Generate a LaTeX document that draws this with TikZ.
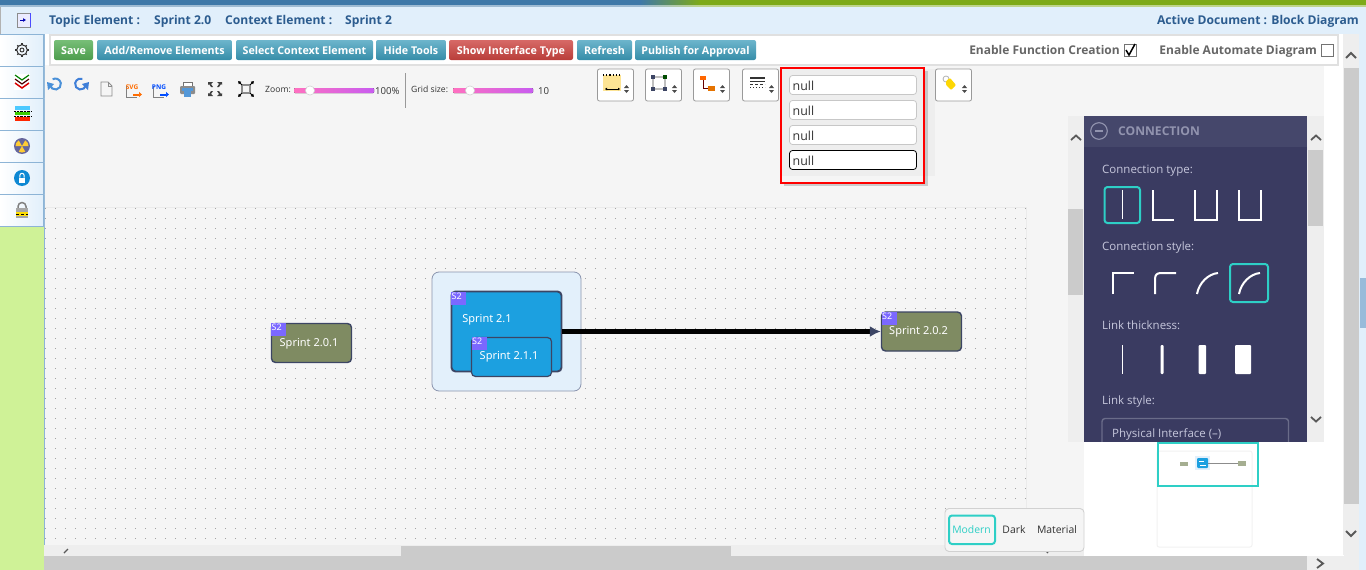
\documentclass[tikz,border=0pt]{standalone}
\usepackage{fontspec}
\setmainfont{Open Sans}
\newfontfamily\labelfont{Noto Sans}
\usetikzlibrary{arrows.meta}
\definecolor{hdr}{HTML}{E1EFFB}
\definecolor{hdrtxt}{HTML}{2C5C8F}
\definecolor{side}{HTML}{CFF297}
\definecolor{sideln}{HTML}{8DB4D6}
\definecolor{canvas}{HTML}{F5F5F5}
\definecolor{track}{HTML}{EEEEEE}
\definecolor{thumb}{HTML}{CBCBCB}
\definecolor{panel}{HTML}{3A3B61}
\definecolor{panelhd}{HTML}{45476B}
\definecolor{paneltx}{HTML}{C6C7DC}
\definecolor{teal}{HTML}{2ECFC6}
\definecolor{olive}{HTML}{7F8B62}
\definecolor{nodeblue}{HTML}{1CA0E0}
\definecolor{nodeln}{HTML}{3C4564}
\definecolor{tagc}{HTML}{7B68FF}
\definecolor{contfill}{HTML}{E3F0FB}
\definecolor{contln}{HTML}{8A94AE}
\definecolor{btnblue}{HTML}{3C9DBB}
\definecolor{btnred}{HTML}{CD4440}
\definecolor{btngreen}{HTML}{55AE55}
\definecolor{boxgray}{HTML}{9A9A9A}
\definecolor{undoc}{HTML}{4A90D8}
\definecolor{redoc}{HTML}{3F7FD8}
\tikzset{
  x=1pt,y=-1pt,
  btn/.style={rounded corners=2pt,inner sep=0pt,minimum height=20pt,text=white,text height=9pt,text depth=1pt,font=\bfseries\fontsize{10.7}{12}\selectfont,anchor=center},
  bluebtn/.style={btn,top color=btnblue!75!white,bottom color=btnblue!90!black},
  redbtn/.style={btn,top color=btnred!80!white,bottom color=btnred!90!black},
  greenbtn/.style={btn,top color=btngreen!80!white,bottom color=btngreen!90!black},
  hdrtext/.style={anchor=base west,inner sep=0pt,text=hdrtxt,font=\bfseries\fontsize{12.1}{13}\selectfont},
  graytext/.style={inner sep=0pt,text=black!60,text height=10pt,text depth=1pt,font=\bfseries\fontsize{12}{13}\selectfont},
  tooltext/.style={anchor=base west,inner sep=0pt,text=black!80,font=\fontsize{8.6}{10}\selectfont},
  valtext/.style={anchor=base west,inner sep=0pt,text=black!80,font=\fontsize{9.6}{11}\selectfont},
  panellabel/.style={anchor=base west,inner sep=0pt,text=paneltx,font=\fontsize{11.5}{13}\selectfont},
  selbox/.style={draw=boxgray,fill=white,rounded corners=2pt,line width=.8pt,minimum width=36pt,minimum height=32pt,inner sep=0pt},
  nullbox/.style={draw=black!22,fill=white,rounded corners=3pt,line width=.8pt,minimum width=127pt,minimum height=19pt,inner sep=0pt},
  nulltext/.style={inner sep=0pt,anchor=base west,text=black!80,font=\fontsize{12.4}{14}\selectfont},
  elem/.style={rounded corners=4pt,inner sep=0pt,text=white},
  olivebox/.style={elem,draw=nodeln,fill=olive,line width=1.4pt,minimum width=80pt,minimum height=39pt},
  bluebox/.style={elem,draw=nodeln,fill=nodeblue,line width=1.2pt,minimum width=80pt,minimum height=39pt},
  tagbox/.style={fill=tagc,text=white,inner sep=0pt,minimum width=15pt,minimum height=13pt,text width=14pt,align=left,text height=7pt,text depth=6pt,anchor=north west,font=\labelfont\fontsize{9}{10}\selectfont},
  lab/.style={inner sep=0pt,text=white,font=\labelfont\fontsize{11}{13}\selectfont},
  wline/.style={draw=white,line width=2pt},
  selring/.style={draw=teal,line width=2pt,rounded corners=3pt},
  sideicon/.style={draw=black!80,line width=1pt},
  themetxt/.style={inner sep=0pt,text=black!80,font=\fontsize{10.4}{12}\selectfont},
  scrollarrow/.style={draw=black!65,line width=1.8pt},
  lnk/.style={-{Latex[length=11pt,width=11pt,color=nodeln]},line width=4.4pt,black}
}
\newcommand{\sliderbar}[3]{%
  \fill[left color=#1,right color=#2,rounded corners=1pt] (#3,88) rectangle ++(80,5);}
\newcommand{\updown}[2]{%
  \fill[black!70] (#1-2.5,#2-1) -- (#1,#2-4) -- (#1+2.5,#2-1) -- cycle;
  \fill[black!70] (#1-2.5,#2+1) -- (#1,#2+4) -- (#1+2.5,#2+1) -- cycle;}
\begin{document}
\begin{tikzpicture}
\useasboundingbox (0,0) rectangle (1366,570);
\fill[white] (0,0) rectangle (1366,570);
% top band
\definecolor{tb}{HTML}{3F78A8}\definecolor{tg}{HTML}{7DAA18}
\shade[left color=tb,right color=tg] (640,0) rectangle (700,5);
\fill[tb] (0,0) rectangle (641,5);
\fill[tg] (699,0) rectangle (1366,5);
\fill[tb!50!white] (0,5) rectangle (641,7);
\fill[tg!50!white] (699,5) rectangle (1366,7);
\shade[left color=tb!50!white,right color=tg!50!white] (640,5) rectangle (700,7);
% header
\fill[hdr] (0,7) rectangle (1366,34);
\draw[black!30,line width=.8pt] (.5,7) -- (.5,34);
% right scrollbar
\fill[hdr] (1358,34) rectangle (1366,570);
\fill[sideln!90!white] (1360,278) rectangle (1366,328);
\fill[track] (1343,34) rectangle (1359,555);
\fill[thumb] (1344,68) rectangle (1359,504);
% canvas
\fill[canvas] (44,65) rectangle (1326,545);
\fill[white] (1324,65) rectangle (1343,556);
\foreach \yy in {208,218,...,545}{
  \foreach \xx in {45,55,...,1025}{\fill[black!36] (\xx,\yy) rectangle ++(.9,.9);}}
\draw[black!8] (44,207) -- (1026,207) -- (1026,545);
% left sidebar
\fill[side] (0,227) rectangle (44,570);
\fill[sideln] (43.5,34) rectangle (44.5,570);
\foreach \yy in {34,66,98,130,162,194}{
  \fill[left color=white,right color=hdr] (0,\yy) rectangle (44,\yy+32);
  \draw[sideln,line width=.9pt] (0,\yy+32) -- (44,\yy+32);
  \draw[sideln,line width=.9pt] (0,\yy) -- (44,\yy);}
\draw[sideln,line width=.9pt] (43.6,34) -- (43.6,227);
% top-left header icon
\draw[black!45,fill=white!92!blue,line width=.8pt] (17,13) rectangle (30,27);
\draw[blue!70,line width=1pt] (30,13) -- (30,27);
\draw[-{Latex[length=3pt,width=4pt]},blue!70!black,line width=1pt] (20,20) -- (26,20);
% side icons
\draw[sideicon,line width=1pt] (22,50) circle (5.3);
\draw[sideicon,line width=.9pt] (22,50) circle (2);
\foreach \aa in {0,45,...,315}{\draw[sideicon,line width=1.2pt] (22,50) ++(\aa:5.3) -- ++(\aa:1.4);}
\fill[white] (14,74) rectangle (30,90);
\draw[green!50!black,line width=1.2pt] (15,75) -- (22,80) -- (29,75);
\draw[black!70!red,line width=1.2pt] (15,79) -- (22,84) -- (29,79);
\draw[red!85!black,line width=1.5pt] (15,83) -- (22,88) -- (29,83);
\fill[blue!30!cyan!70] (15,106) rectangle (30,110);
\fill[green!70!yellow!80!black] (15,112) rectangle (30,115);
\fill[red!70!orange] (15,117) rectangle (30,121);
\draw[black,densely dotted] (14,111) -- (31,111) (14,116) -- (31,116);
\fill[black!65!blue!60] (22,146) circle (8);
\fill[orange!50!yellow!80!white] (22,146) -- ++(60:6.5) arc (60:120:6.5) -- cycle
  (22,146) -- ++(180:6.5) arc (180:240:6.5) -- cycle
  (22,146) -- ++(300:6.5) arc (300:360:6.5) -- cycle;
\fill[cyan!70!blue] (22,178) circle (8);
\fill[white] (19,177.5) rectangle (25,183);
\draw[white,line width=1pt] (19.8,177.5) -- (19.8,175.5) arc (180:360:2.2) -- (24.2,177.5);
\draw[black!50,line width=1.5pt] (18,208) -- (18,206.5) arc (180:360:4) -- (26,208);
\fill[black!35] (16,208) rectangle (28,217.5);
\fill[yellow!80!orange] (16,212) rectangle (28,215.5);
\draw[black,densely dashed,line width=.9pt] (16,214) -- (28,214);
% header texts
\node[hdrtext] (ht1) at (49,24.5) {Topic Element :};
\node[hdrtext] (ht2) at (154,24.5) {Sprint 2.0};
\node[hdrtext] (ht3) at (225,24.5) {Context Element :};
\node[hdrtext] (ht4) at (345,24.5) {Sprint 2};
\node[hdrtext,anchor=base east] (ht5) at (1359,24.5) {Active Document : Block Diagram};
% toolbar
\draw[black!12,fill=white,line width=1.6pt] (50,35) rectangle (1338,65);
\node[greenbtn,minimum width=39pt] (b1) at (73.5,50) {Save};
\node[bluebtn,minimum width=135pt] (b2) at (164.5,50) {Add/Remove Elements};
\node[bluebtn,minimum width=137pt] (b3) at (304.5,50) {Select Context Element};
\node[bluebtn,minimum width=70pt] (b4) at (411,50) {Hide Tools};
\node[redbtn,minimum width=124pt] (b5) at (511,50) {Show Interface Type};
\node[bluebtn,minimum width=55pt] (b6) at (604.5,50) {Refresh};
\node[bluebtn,minimum width=121pt] (b7) at (695.5,50) {Publish for Approval};
\node[graytext,anchor=east] (e1) at (1120,49.5) {Enable Function Creation};
\draw[black!55,line width=.9pt,fill=white] (1124,44.5) rectangle (1136,56.5);
\draw[black,line width=1.5pt] (1126,50) -- (1129,55) -- (1135,44);
\node[graytext,anchor=east] (e2) at (1317,49.5) {Enable Automate Diagram};
\draw[black!55,line width=.9pt,fill=white] (1321.5,44.5) rectangle (1333.5,56.5);
% tool icons
\draw[undoc,line width=2pt] (50,85) arc (170:-120:5.5);
\fill[undoc] (47,82) -- (54,84) -- (48,90) -- cycle;
\draw[redoc,line width=2pt] (86,85) arc (10:290:5.5);
\fill[redoc] (89,82) -- (82,84) -- (88,90) -- cycle;
\draw[black!45,line width=.8pt] (101,82) -- (108,82) -- (112,86) -- (112,96) -- (101,96) -- cycle;
\draw[black!45,line width=.6pt] (108,82) -- (108,86) -- (112,86);
\draw[black!50,line width=.7pt] (126.5,86) -- (126.5,97) -- (137,97);
\node[inner sep=0pt,text=orange!85!red,font=\bfseries\fontsize{6.5}{7}\selectfont] (svg) at (132,87) {SVG};
\draw[-{Latex[length=3pt,width=6pt]},orange!85!red,line width=2pt] (133,94.5) -- (142,94.5);
\draw[black!50,line width=.7pt] (153.5,86) -- (153.5,97) -- (164,97);
\node[inner sep=0pt,text=blue!70!cyan,font=\bfseries\fontsize{6.5}{7}\selectfont] (png) at (159,87) {PNG};
\draw[-{Latex[length=3pt,width=6pt]},blue!70!cyan,line width=2pt] (160,94.5) -- (169,94.5);
\draw[black!55,fill=white,line width=.8pt] (183,82) rectangle (192,87);
\fill[black!45,rounded corners=1pt] (180,86) rectangle (195,94);
\fill[cyan!60!blue!70] (184,91) rectangle (191,97);
\fill[cyan!60!blue!70] (182,88) rectangle (193,91);
\foreach \cx/\cy/\sx/\sy in {208/82/1/1,222/82/-1/1,208/96/1/-1,222/96/-1/-1}{
  \fill[black!75] (\cx,\cy) -- ++(\sx*5,0) -- ++(\sx*-2,\sy*2) -- ++(\sx*2,\sy*3) -- ++(\sx*-2,0) -- ++(\sx*-2,\sy*-3) -- ++(\sx*-1,\sy*1) -- cycle;}
\draw[black!45,line width=1.1pt] (242,85) rectangle (250,93);
\foreach \ax/\ay/\bx/\by in {242/85/238/81,250/85/254/81,242/93/238/97,250/93/254/97}{
  \draw[-{Latex[length=3pt,width=4pt]},black,line width=.9pt] (\ax,\ay) -- (\bx,\by);}
\node[tooltext] (zl) at (265,92) {Zoom:};
\definecolor{sl1}{HTML}{FF70C0}\definecolor{sl2}{HTML}{C85CF0}
\sliderbar{sl1}{sl2}{294}
\fill[white,draw=black!18,line width=.6pt] (310,90.5) circle (4.6);
\node[valtext] (zv) at (375,94) {100\%};
\draw[black!40,line width=.8pt] (405.5,73) -- (405.5,108);
\node[tooltext] (gl) at (411,92) {Grid size:};
\sliderbar{sl1}{sl2}{453}
\fill[white,draw=black!18,line width=.6pt] (470,90.5) circle (4.6);
\node[valtext] (gv) at (538,94) {10};
% selector boxes
\node[selbox] (s1) at (615.5,85) {};
\fill[yellow!55!orange!40!white] (603,75) rectangle (621,91);
\draw[black,dotted,line width=1.2pt] (603,75) -- (621,75);
\draw[{Latex[length=2pt,width=3pt]}-{Latex[length=2pt,width=3pt]},black,line width=.9pt] (605,89) -- (620,89);
\updown{626.5}{89}
\node[selbox] (s2) at (663.5,85) {};
\draw[black!25,line width=1.2pt] (653,77) rectangle (665,89);
\foreach \cx/\cy in {653/77,653/89,665/89}{\fill[nodeln] (\cx-2,\cy-2) rectangle ++(4,4);}
\fill[green!30!black] (663,75) rectangle ++(4,4);
\updown{674.5}{89}
\node[selbox] (s3) at (711.5,85) {};
\draw[red!40!black,line width=1pt] (703,79) -- (703,88.5) -- (710,88.5);
\fill[orange!80!red] (700,76) rectangle ++(5.5,4);
\fill[orange!90!black] (708,85.5) rectangle ++(6.5,5);
\updown{722.5}{89}
\node[selbox] (s4) at (760.5,85) {};
\fill[black!80] (750,77) rectangle (765,79);
\draw[black!80,line width=.9pt] (750,81) -- (765,81);
\draw[black!80,densely dashed,line width=.9pt] (750,84) -- (765,84);
\draw[black!80,dotted,line width=1pt] (750,87) -- (765,87);
\updown{771.5}{89}
\node[selbox] (s5) at (953.5,85) {};
\draw[black!30,line width=.8pt] (946,79) circle (3);
\fill[yellow!75!orange,rounded corners=1pt] (946,81) -- (950,78) -- (956,85) -- (951,90) -- (946,85) -- cycle;
\updown{964.5}{89}
% null panel
\fill[track] (785,69) rectangle (935,176);
\fill[black!40,opacity=.45] (784,71) rectangle (927.5,186);
\fill[track] (782,68) rectangle (924,176);
\fill[canvas] (782,176) rectangle (924,183);
\draw[red,line width=2pt] (781,67.5) rectangle (924,183);
\node[nullbox] (n1) at (853,85) {};
\node[nullbox] (n2) at (853,110) {};
\node[nullbox] (n3) at (853,135) {};
\node[nullbox,draw=black] (n4) at (853,160) {};
\node[nulltext] (t1) at (792.5,90) {null};
\node[nulltext] (t2) at (792.5,115) {null};
\node[nulltext] (t3) at (792.5,140) {null};
\node[nulltext] (t4) at (792.5,165) {null};
% diagram
\node[olivebox] (a) at (311.5,343) {};
\node[tagbox] (ta) at (271,323) {S2};
\node[lab] (la) at (309,343.5) {Sprint 2.0.1};
\node[draw=contln,fill=contfill,rounded corners=7pt,line width=.8pt,inner sep=0pt,minimum width=149pt,minimum height=119pt] (c) at (506.5,331.5) {};
\node[elem,draw=nodeln,fill=nodeblue,line width=1.9pt,minimum width=110pt,minimum height=80pt] (b) at (506.5,331.5) {};
\node[tagbox] (tb) at (451,292) {S2};
\node[lab] (lb) at (487,319.5) {Sprint 2.1};
\node[bluebox] (d) at (511.5,357) {};
\node[tagbox] (td) at (471.5,337) {S2};
\node[lab] (ld) at (509,356.5) {Sprint 2.1.1};
\node[olivebox] (e) at (921.5,331.5) {};
\node[tagbox] (te) at (881.5,312) {S2};
\node[lab] (le) at (918.5,331.5) {Sprint 2.0.2};
\draw[lnk] (b.east) -- (e.west);
% side scrollbar of panel
\fill[track] (1068,116) rectangle (1084,442);
\fill[thumb] (1068,209) rectangle (1083,295);
\fill[track] (1307,116) rectangle (1324,442);
\fill[thumb] (1308,150) rectangle (1323,226);
\draw[scrollarrow] (1071,140) -- (1076,135.5) -- (1081,140);
\draw[scrollarrow] (1311,140) -- (1316,135.5) -- (1321,140);
\draw[scrollarrow] (1311,417) -- (1316,421.5) -- (1321,417);
\draw[scrollarrow] (1346,58) -- (1351,53) -- (1356,58);
\draw[scrollarrow] (1346,531) -- (1351,536) -- (1356,531);
% connection panel
\fill[panel] (1084,116) rectangle (1307,442);
\fill[panelhd] (1084,116) rectangle (1307,147);
\draw[panelhd!40!paneltx,line width=1.1pt] (1099,131) circle (8.3);
\draw[panelhd!40!paneltx,line width=1.4pt] (1095,131) -- (1103,131);
\node[anchor=base west,inner sep=0pt,text=panelhd!40!paneltx,font=\bfseries\fontsize{12.1}{13}\selectfont] (ph) at (1118,135.5) {CONNECTION};
\node[panellabel] (p1) at (1102,173) {Connection type:};
\draw[selring] (1104.5,187) rectangle (1140,223);
\draw[white,line width=1pt] (1122,190) -- (1122,219);
\draw[wline,line width=1.3pt] (1153,190) -- (1153,220) -- (1174,220);
\draw[wline,line width=1.3pt] (1195,190) -- (1195,220) -- (1217,220) -- (1217,190);
\draw[wline,line width=1.3pt] (1239,190) -- (1239,220) -- (1261,220) -- (1261,190);
\node[panellabel] (p2) at (1102,250) {Connection style:};
\draw[wline] (1113,294) -- (1113,273) -- (1134,273);
\draw[wline] (1155,294) -- (1155,279) .. controls (1155,275) and (1157,273) .. (1161,273) -- (1176,273);
\draw[wline] (1197,294) .. controls (1199,283) and (1208,274) .. (1218,273);
\draw[selring] (1230,264) rectangle (1268,302);
\draw[wline] (1239,294) .. controls (1241,283) and (1250,274) .. (1260,273);
\node[panellabel] (p3) at (1102,329) {Link thickness:};
\fill[white] (1121.5,345) rectangle (1123,374);
\fill[white,rounded corners=1pt] (1160.5,345) rectangle (1163.5,374);
\fill[white,rounded corners=1pt] (1198.5,345) rectangle (1206,374);
\fill[white,rounded corners=1pt] (1235,345) rectangle (1251,374);
\node[panellabel] (p4) at (1102,404) {Link style:};
\begin{scope}
\clip (1084,410) rectangle (1307,442);
\draw[panelhd!80!white,rounded corners=3pt,line width=1.4pt] (1102,418.5) rectangle (1288.5,460);
\end{scope}
\node[panellabel] (p5) at (1112,437.5) {Physical Interface (--)};
% minimap
\fill[white] (1084,442) rectangle (1343,556);
\draw[black!5,rounded corners=2pt,line width=1pt] (1157,451) rectangle (1252,547);
\draw[teal,line width=2pt] (1158,443) rectangle (1258,486);
\fill[olive!70!white] (1180,462) rectangle (1188,466);
\fill[contfill] (1195,456) rectangle (1210,470);
\fill[nodeblue,rounded corners=1pt] (1197,458) rectangle (1208,468);
\draw[white,line width=.6pt] (1199,461) -- (1204,461) (1200,465) -- (1206,465);
\draw[black!45,line width=.7pt] (1208,463) -- (1238,463);
\fill[olive!70!white] (1238,461) rectangle (1246,465.5);
% bottom scrollbars
\fill[track] (44,545) rectangle (1084,556);
\fill[thumb] (401,546) rectangle (731,556);
\draw[black!65,line width=1.4pt] (68,549) -- (64,553);
\draw[black!65,line width=1.2pt] (1046,551) -- (1048,553);
\fill[thumb] (44,556) rectangle (1307,570);
\fill[track] (1307,556) rectangle (1344,570);
\fill[track] (1344,555) rectangle (1359,570);
\draw[scrollarrow] (1317,559) -- (1323,563.5) -- (1317,568);
% theme box
\node[draw=black!18,fill=canvas,rounded corners=4pt,line width=.9pt,inner sep=0pt,minimum width=139pt,minimum height=43pt] (th) at (1014.5,530) {};
\draw[selring] (949,515.5) rectangle (995,544);
\node[themetxt,text=teal] (m1) at (971.5,530) {Modern};
\node[themetxt] (m2) at (1014,530) {Dark};
\node[themetxt] (m3) at (1057,530) {Material};
\end{tikzpicture}
\end{document}
